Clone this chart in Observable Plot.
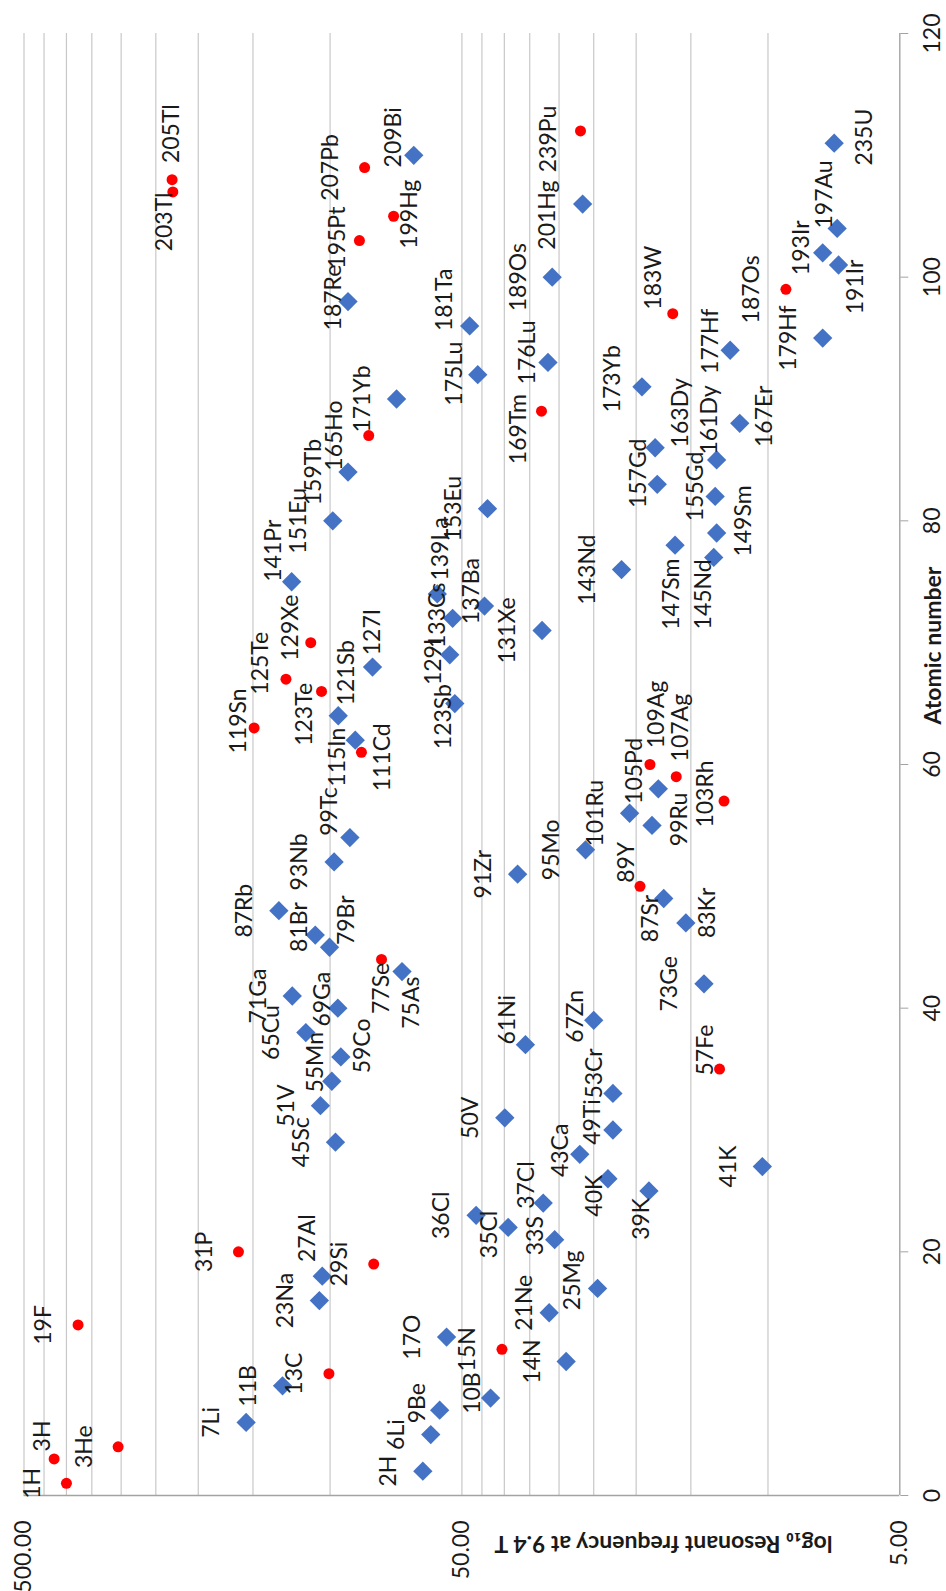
<!DOCTYPE html>
<html>
<head>
<meta charset="utf-8">
<script src="https://cdn.jsdelivr.net/npm/d3@7"></script>
<script src="https://cdn.jsdelivr.net/npm/@observablehq/plot@0.6"></script>
<style>
  html, body { margin: 0; padding: 0; background: #fff; }
  #chart svg { display: block; }
</style>
</head>
<body>
<div id="chart"></div>
<script>
// Nuclides, in table order (row number is plotted on the "Atomic number" axis)
const isotopes = [
  "1H", "2H", "3H", "3He", "6Li", "7Li", "9Be", "10B", "11B", "13C",
  "14N", "15N", "17O", "19F", "21Ne", "23Na", "25Mg", "27Al", "29Si", "31P",
  "33S", "35Cl", "36Cl", "37Cl", "39K", "40K", "41K", "43Ca", "45Sc", "49Ti",
  "50V", "51V", "53Cr", "55Mn", "57Fe", "59Co", "61Ni", "65Cu", "67Zn", "69Ga",
  "71Ga", "73Ge", "75As", "77Se", "79Br", "81Br", "83Kr", "87Rb", "87Sr", "89Y",
  "91Zr", "93Nb", "95Mo", "99Tc", "99Ru", "101Ru", "103Rh", "105Pd", "107Ag", "109Ag",
  "111Cd", "115In", "119Sn", "121Sb", "123Sb", "123Te", "125Te", "127I", "129I", "129Xe",
  "131Xe", "133Cs", "137Ba", "139La", "141Pr", "143Nd", "145Nd", "147Sm", "149Sm", "151Eu",
  "153Eu", "155Gd", "157Gd", "159Tb", "161Dy", "163Dy", "165Ho", "167Er", "169Tm", "171Yb",
  "173Yb", "175Lu", "176Lu", "177Hf", "179Hf", "181Ta", "183W", "187Re", "187Os", "189Os",
  "191Ir", "193Ir", "195Pt", "197Au", "199Hg", "201Hg", "203Tl", "205Tl", "207Pb", "209Bi",
  "235U", "239Pu"
];

const atomicNumber = [
  1, 2, 3, 4, 5, 6, 7, 8, 9, 10,
  11, 12, 13, 14, 15, 16, 17, 18, 19, 20,
  21, 22, 23, 24, 25, 26, 27, 28, 29, 30,
  31, 32, 33, 34, 35, 36, 37, 38, 39, 40,
  41, 42, 43, 44, 45, 46, 47, 48, 49, 50,
  51, 52, 53, 54, 55, 56, 57, 58, 59, 60,
  61, 62, 63, 64, 65, 66, 67, 68, 69, 70,
  71, 72, 73, 74, 75, 76, 77, 78, 79, 80,
  81, 82, 83, 84, 85, 86, 87, 88, 89, 90,
  91, 92, 93, 94, 95, 96, 97, 98, 99, 100,
  101, 102, 103, 104, 105, 106, 107, 108, 109, 110,
  111, 112
];

// Resonant frequency at 9.4 T, MHz
const freqMHz = [
  400.0, 61.4, 426.7, 304.8, 58.9, 155.5, 56.2, 43.0, 128.4, 100.6,
  28.9, 40.5, 54.2, 376.3, 31.6, 105.8, 24.5, 104.2, 79.5, 161.9,
  30.7, 39.2, 46.4, 32.6, 18.7, 23.2, 10.3, 26.9, 97.2, 22.6,
  39.9, 105.2, 22.6, 99.1, 12.9, 94.5, 35.8, 113.6, 25.0, 96.0,
  122.0, 14.0, 68.5, 76.3, 100.3, 108.1, 15.4, 130.9, 17.3, 19.6,
  37.3, 97.9, 26.1, 90.1, 18.4, 20.7, 12.6, 17.8, 16.2, 18.6,
  84.8, 87.6, 149.1, 95.8, 51.9, 104.6, 126.1, 80.0, 53.3, 110.7,
  32.8, 52.5, 44.4, 56.9, 122.4, 21.6, 13.3, 16.3, 13.1, 98.6,
  43.7, 13.2, 17.9, 91.0, 13.1, 18.1, 81.6, 11.6, 32.9, 70.5,
  19.4, 46.0, 31.8, 12.2, 7.5, 48.0, 16.5, 91.0, 9.1, 31.1,
  6.9, 7.5, 85.7, 6.95, 71.6, 26.5, 228.6, 229.5, 83.4, 64.4,
  7.06, 26.8
];

// Which series each point belongs to (1 = diamonds, 2 = circles)
const series = [
  2, 1, 2, 2, 1, 1, 1, 1, 1, 2,
  1, 2, 1, 2, 1, 1, 1, 1, 2, 2,
  1, 1, 1, 1, 1, 1, 1, 1, 1, 1,
  1, 1, 1, 1, 2, 1, 1, 1, 1, 1,
  1, 1, 1, 2, 1, 1, 1, 1, 1, 2,
  1, 1, 1, 1, 1, 1, 2, 1, 2, 2,
  2, 1, 2, 1, 1, 2, 2, 1, 1, 2,
  1, 1, 1, 1, 1, 1, 1, 1, 1, 1,
  1, 1, 1, 1, 1, 1, 2, 1, 2, 1,
  1, 1, 1, 1, 1, 1, 2, 1, 2, 1,
  1, 1, 2, 1, 2, 1, 2, 2, 2, 1,
  1, 2
];

// Axis ticks and gridlines
const numberTicks = [0, 20, 40, 60, 80, 100, 120];
const freqTicks = [500, 50, 5];
const freqGrid = [500, 450, 400, 350, 300, 250, 200, 150, 100, 50, 45, 40, 35, 30, 25, 20, 15, 10];

const xTitle = "log\u2081\u2080 Resonant frequency at 9.4 T";
const yTitle = "Atomic number";

// Label placement: offset (px) of each label's centre from its marker.
// Most labels sit just beside the marker; crowded ones are moved by hand.
const defaultNudge = [-34, 0];
const labelNudge = {
  "3H": [-12, -23], "9Be": [-22, -7], "10B": [-18, -5], "27Al": [-15, -38],
  "55Mn": [-16, -19], "35Cl": [-19, 7], "21Ne": [-25, -10], "33S": [-19, -4],
  "37Cl": [-17, -18], "25Mg": [-25, -8], "43Ca": [-19, -4], "40K": [-13, 17],
  "49Ti": [-20, -8], "53Cr": [-18, -20], "39K": [-7, 28], "57Fe": [-14, -19],
  "61Ni": [-18, -25], "67Zn": [-18, -4], "83Kr": [22, -10], "87Sr": [-13, 20],
  "89Y": [-13, -24], "99Ru": [28, -6], "103Rh": [-18, -7], "105Pd": [-24, -18],
  "109Ag": [7, -50], "107Ag": [4, -49], "137Ba": [-13, -15], "147Sm": [-3, 49],
  "145Nd": [-10, 37], "149Sm": [27, -12], "119Sn": [-15, -7], "125Te": [-25, -16],
  "123Te": [-17, 23], "129Xe": [-20, -15], "141Pr": [-18, -31], "115In": [-18, 17],
  "99Tc": [-20, -26], "121Sb": [8, -43], "111Cd": [21, 5], "127I": [0, -35],
  "123Sb": [-11, 13], "129I": [-16, 7], "133Cs": [-15, -3], "139La": [3, -45],
  "187Re": [-14, -4], "181Ta": [-25, -26], "175Lu": [-23, -1], "176Lu": [-20, -10],
  "169Tm": [-23, 18], "173Yb": [-29, -8], "183W": [-19, -36], "157Gd": [-19, -11],
  "163Dy": [25, -35], "155Gd": [-20, -10], "161Dy": [-7, -40], "177Hf": [-20, -9],
  "167Er": [25, -7], "191Ir": [17, 22], "201Hg": [-35, 11], "239Pu": [-32, 8],
  "193Ir": [-21, -5], "197Au": [-13, -34], "235U": [30, -6], "205Tl": [0, -46],
  "203Tl": [-8, 30], "195Pt": [-22, -3], "209Bi": [-20, -18], "199Hg": [16, -2],
  "69Ga": [-15, -9], "59Co": [22, -11], "81Br": [-16, -8], "79Br": [17, -27],
  "77Se": [0, 29], "75As": [10, 31]
};

const rows = isotopes.map((name, i) => ({
  name,
  z: atomicNumber[i],
  freq: freqMHz[i],
  series: series[i]
}));

const W = 946, H = 1591;
const frame = {left: 23.5, right: 899.3, top: 33, bottom: 1495};
const ink = "#1a1a1a";
const fs = 23;

const labelMarks = rows.map(d => {
  const [dx, dy] = labelNudge[d.name] ?? defaultNudge;
  return Plot.text([d], {
    x: "freq", y: "z", text: "name",
    dx, dy, rotate: -90, fontSize: fs, fill: ink
  });
});

const chart = Plot.plot({
  width: W,
  height: H,
  marginLeft: frame.left,
  marginRight: W - frame.right,
  marginTop: frame.top,
  marginBottom: H - frame.bottom,
  style: {fontFamily: "Lato, 'Liberation Sans', sans-serif", background: "#fff", overflow: "visible"},
  x: {type: "log", domain: [500, 5], axis: null},
  y: {domain: [0, 120]},
  marks: [
    // gridlines at every 50 MHz above 50, every 5 MHz below
    Plot.ruleX(freqGrid, {x: d => d, stroke: "#c8c8c8", strokeWidth: 1.2}),
    // axis lines
    Plot.ruleY([0], {y: d => d, stroke: "#a3a3a3", strokeWidth: 1.4}),
    Plot.ruleX([5], {x: d => d, stroke: "#a3a3a3", strokeWidth: 1.4}),
    Plot.axisY(numberTicks, {anchor: "right", tickSize: 8, tickFormat: () => "", stroke: "#a3a3a3", label: null}),
    // tick labels
    Plot.text(numberTicks, {
      y: d => d, text: d => String(d), frameAnchor: "right",
      textAnchor: "middle", lineAnchor: "middle",
      dx: 33, rotate: -90, fontSize: fs, fill: ink
    }),
    Plot.text(freqTicks, {
      x: d => d, text: d => d.toFixed(2), frameAnchor: "bottom",
      textAnchor: "end", lineAnchor: "middle",
      dy: 25, rotate: -90, fontSize: fs, fill: ink
    }),
    // axis titles
    Plot.text([xTitle], {
      text: d => d, frameAnchor: "bottom", textAnchor: "middle", lineAnchor: "middle",
      dx: 201.6, dy: 48, rotate: 180, fontSize: fs, fontWeight: "bold", fill: ink
    }),
    Plot.text([yTitle], {
      text: d => d, frameAnchor: "right", textAnchor: "middle", lineAnchor: "middle",
      dx: 34, dy: -119, rotate: -90, fontSize: fs, fontWeight: "bold", fill: ink
    }),
    // markers
    Plot.dot(rows, {filter: d => d.series === 1, x: "freq", y: "z", symbol: "diamond2", r: 8.7, fill: "#4472C4"}),
    Plot.dot(rows, {filter: d => d.series === 2, x: "freq", y: "z", r: 5.5, fill: "#FF0000"}),
    // nuclide labels
    ...labelMarks
  ]
});

document.getElementById("chart").append(chart);
</script>
</body>
</html>
